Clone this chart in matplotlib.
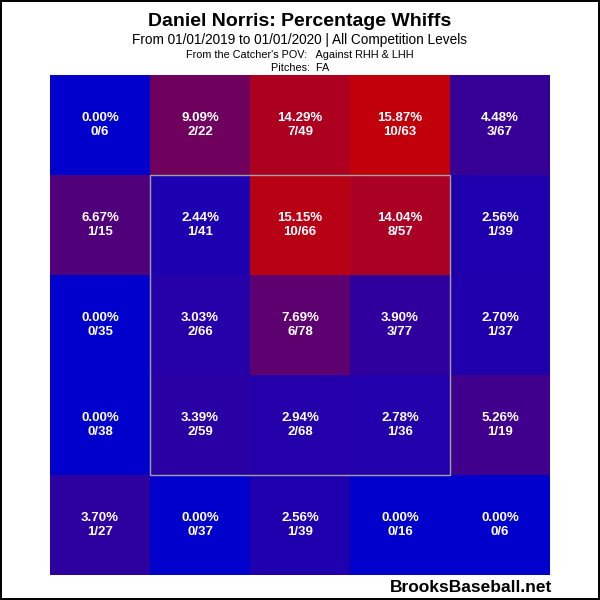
import numpy as np
import matplotlib.pyplot as plt
from matplotlib.colors import LinearSegmentedColormap
from matplotlib.patches import Rectangle

plt.rcParams['font.family'] = ['Liberation Sans', 'DejaVu Sans']

# zone grid, catcher's POV, rows listed top to bottom
whiffs = [
    [0, 2, 7, 10, 3],
    [1, 1, 10, 8, 1],
    [0, 2, 6, 3, 1],
    [0, 2, 2, 1, 1],
    [1, 0, 1, 0, 0],
]
pitches = [
    [6, 22, 49, 63, 67],
    [15, 41, 66, 57, 39],
    [35, 66, 78, 77, 37],
    [38, 59, 68, 36, 19],
    [27, 37, 39, 16, 6],
]

title = "Daniel Norris: Percentage Whiffs"
subtitle = "From 01/01/2019 to 01/01/2020 | All Competition Levels"
line3 = "From the Catcher's POV:   Against RHH & LHH"
line4 = "Pitches:  FA"

w = np.array(whiffs, dtype=float)
n = np.array(pitches, dtype=float)
pct = 100 * w / n

cmap = LinearSegmentedColormap.from_list('br', [(0, 0, 205/255), (200/255, 0, 5/255)])

fig = plt.figure(figsize=(6, 6), dpi=100, edgecolor='black', linewidth=1.5)
ax = fig.add_axes([50/600, 25/600, 500/600, 500/600])

nrows, ncols = pct.shape
for i in range(nrows):
    for j in range(ncols):
        y = nrows - 1 - i
        ax.add_patch(Rectangle((j, y), 1, 1, color=cmap(min(pct[i, j] / 16.5, 1.0)), lw=0))
        ax.text(j + 0.5, y + 0.57, f"{pct[i, j]:.2f}%", ha='center', va='center',
                color='white', fontsize=9.5, fontweight='bold')
        ax.text(j + 0.5, y + 0.43, f"{whiffs[i][j]}/{pitches[i][j]}", ha='center', va='center',
                color='white', fontsize=9.5, fontweight='bold')

# strike zone
ax.add_patch(Rectangle((1, 1), 3, 3, fill=False, edgecolor='#a0a0a0', lw=1))

ax.set_xlim(0, ncols)
ax.set_ylim(0, nrows)
ax.axis('off')

fig.text(0.5, 1 - 22/600, title, ha='center', va='center', fontsize=14, fontweight='bold')
fig.text(0.5, 1 - 40/600, subtitle, ha='center', va='center', fontsize=9.8)
fig.text(0.5, 1 - 55/600, line3, ha='center', va='center', fontsize=7.8)
fig.text(0.5, 1 - 68/600, line4, ha='center', va='center', fontsize=7.8)
fig.text(552/600, 1 - 588/600, "BrooksBaseball.net", ha='right', va='center',
         fontsize=12.5, fontweight='bold')

fig.savefig('out.png', dpi=100)
